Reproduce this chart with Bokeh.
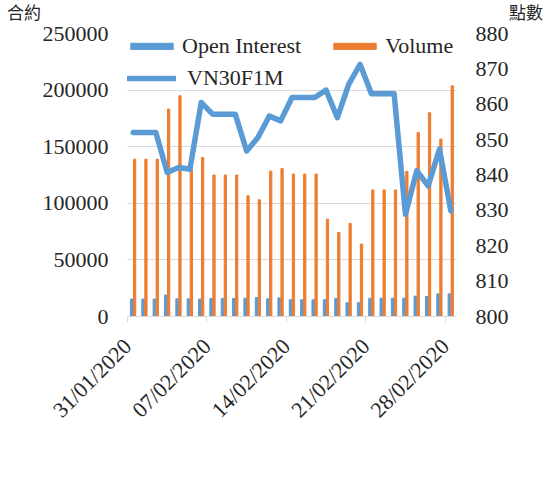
from bokeh.plotting import figure
from bokeh.models import (ColumnDataSource, Range1d, LinearAxis, FixedTicker,
                          NumeralTickFormatter, Legend, LegendItem, Div)
from bokeh.layouts import column
from bokeh.embed import file_html
from bokeh.resources import INLINE
import math

dates = ["31/01/2020", "01/02/2020", "02/02/2020", "03/02/2020", "04/02/2020",
         "05/02/2020", "06/02/2020", "07/02/2020", "08/02/2020", "09/02/2020",
         "10/02/2020", "11/02/2020", "12/02/2020", "13/02/2020", "14/02/2020",
         "15/02/2020", "16/02/2020", "17/02/2020", "18/02/2020", "19/02/2020",
         "20/02/2020", "21/02/2020", "22/02/2020", "23/02/2020", "24/02/2020",
         "25/02/2020", "26/02/2020", "27/02/2020", "28/02/2020"]
open_interest = [15400, 15400, 15400, 18900, 15600, 15600, 15400, 16000, 16000, 16000,
                 16200, 16800, 15600, 16500, 14800, 14800, 14800, 14800, 16000, 12200,
                 12200, 16200, 16200, 16200, 16200, 18000, 17700, 20000, 20000]
volume = [139000, 139000, 139000, 183200, 195000, 130000, 140500, 125000, 125000, 125000,
          106600, 103100, 128400, 130700, 125800, 125800, 125800, 86000, 74200, 82200,
          64000, 111800, 111800, 111800, 128100, 162500, 180000, 156700, 203800]
vn30f1m = [852.0, 852.0, 852.0, 840.7, 842.1, 841.6, 860.5, 857.2, 857.2, 857.2,
           846.8, 850.6, 856.7, 855.3, 861.9, 861.9, 861.9, 864.0, 856.2, 865.6,
           871.3, 863.0, 863.0, 863.0, 828.9, 841.2, 836.9, 847.3, 829.9]
tick_days = [0, 7, 14, 21, 28]
left_ticks = [0, 50000, 100000, 150000, 200000, 250000]
right_ticks = [800, 810, 820, 830, 840, 850, 860, 870, 880]
left_title = "合約"
right_title = "點數"
series_names = ["Open Interest", "Volume", "VN30F1M"]

BLUE = "#5b9bd5"
ORANGE = "#ed7d31"
GRID = "#d9d9d9"
TXT = "#262626"
FONT = "Liberation Serif"

TITLE_H = 20

xs = [i + 0.5 for i in range(len(dates))]
src = ColumnDataSource(dict(
    x_oi=[x - 0.125 for x in xs], x_vol=[x + 0.125 for x in xs], x=xs,
    oi=open_interest, vol=volume, px=vn30f1m))

p = figure(width=545, height=488 - TITLE_H, frame_width=329, frame_height=283,
           min_border_left=127, min_border_right=89, min_border_top=33 - TITLE_H,
           min_border_bottom=172 - TITLE_H, output_backend="svg", toolbar_location=None,
           x_range=Range1d(0, len(dates)), y_range=Range1d(0, 250000), margin=0)
p.extra_y_ranges = {"pts": Range1d(800, 880)}
p.outline_line_color = None
p.background_fill_color = "white"
p.border_fill_color = None

r_oi = p.vbar(x="x_oi", top="oi", width=0.23, source=src, color=BLUE)
r_vol = p.vbar(x="x_vol", top="vol", width=0.2, source=src, color=ORANGE)
r_line = p.line(x="x", y="px", source=src, y_range_name="pts", line_color=BLUE,
                line_width=5.5, line_join="round", line_cap="round")

p.xgrid.visible = False
p.ygrid.grid_line_color = GRID
p.ygrid.ticker = FixedTicker(ticks=left_ticks)

# bottom axis
xa = p.xaxis[0]
xa.ticker = FixedTicker(ticks=tick_days)
xa.major_label_overrides = {d: dates[d] for d in tick_days}
xa.major_label_orientation = math.pi / 4
xa.major_label_text_align = "right"
xa.major_label_text_baseline = "top"
xa.axis_line_color = GRID
xa.major_tick_line_color = GRID
xa.major_tick_out = 6
xa.major_tick_in = 0
xa.minor_tick_line_color = None
xa.major_label_standoff = 20
xa.major_label_text_font = FONT
xa.major_label_text_font_size = "22px"
xa.major_label_text_color = TXT

# left axis
ya = p.yaxis[0]
ya.ticker = FixedTicker(ticks=left_ticks)
ya.formatter = NumeralTickFormatter(format="0")
ya.axis_line_color = None
ya.major_tick_line_color = None
ya.minor_tick_line_color = None
ya.major_tick_out = 0
ya.major_label_standoff = 19
ya.major_label_text_font = FONT
ya.major_label_text_font_size = "22px"
ya.major_label_text_color = TXT

ra = LinearAxis(y_range_name="pts", ticker=FixedTicker(ticks=right_ticks))
ra.axis_line_color = None
ra.major_tick_line_color = None
ra.minor_tick_line_color = None
ra.major_tick_out = 0
ra.major_label_standoff = 19
ra.major_label_text_font = FONT
ra.major_label_text_font_size = "22px"
ra.major_label_text_color = TXT
p.add_layout(ra, "right")

common = dict(padding=0, margin=0, label_text_font=FONT, label_text_font_size="22px",
              label_text_color=TXT, background_fill_alpha=0, border_line_alpha=0)
leg_a = Legend(items=[LegendItem(label=series_names[0], renderers=[r_oi]),
                      LegendItem(label=series_names[1], renderers=[r_vol])],
               orientation="horizontal", location=(-2, 257), spacing=27,
               glyph_width=53, glyph_height=8, label_standoff=4, **common)
leg_b = Legend(items=[LegendItem(label=series_names[2], renderers=[r_line])],
               location=(-6, 225), glyph_width=55, glyph_height=8, label_standoff=11,
               **common)
p.add_layout(leg_a)
p.add_layout(leg_b)

titles = Div(
    text=('<div style="position:relative;width:545px;height:%dpx;overflow:visible;'
          'font-family:\'Noto Sans CJK TC\';font-size:17px;color:%s;">'
          '<span style="position:absolute;left:7px;top:0px;white-space:nowrap;">%s</span>'
          '<span style="position:absolute;right:2px;top:0px;white-space:nowrap;">%s</span></div>')
    % (TITLE_H, TXT, left_title, right_title),
    width=545, height=TITLE_H, margin=0, styles={"overflow": "visible", "z-index": "1"})

layout = column(titles, p, spacing=0, margin=0)
open("out.html", "w").write(file_html(layout, INLINE))
